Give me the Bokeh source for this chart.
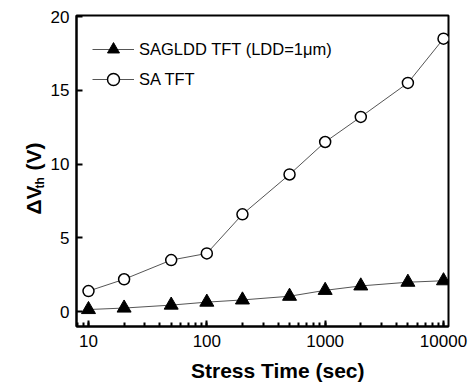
import numpy as np
from bokeh.plotting import figure
from bokeh.layouts import row, column
from bokeh.models import Range1d, LogTicker, FixedTicker, Legend, LegendItem, Label, CustomJSTickFormatter
from bokeh.embed import file_html
from bokeh.resources import INLINE

# data
stress_time = [10, 20, 50, 100, 200, 500, 1000, 2000, 5000, 10000]
sagldd_tft = [0.15, 0.25, 0.45, 0.65, 0.8, 1.05, 1.45, 1.75, 2.0, 2.1]
sa_tft = [1.4, 2.2, 3.5, 3.95, 6.6, 9.3, 11.5, 13.2, 15.5, 18.5]
y_ticks = [0, 5, 10, 15, 20]
x_ticks = [10, 100, 1000, 10000]
series_names = ["SAGLDD TFT (LDD=1\u03bcm)", "SA TFT"]
x_title = "Stress Time (sec)"

FONT = "Liberation Sans"
YW = 46   # width of the strip holding the y-axis title
XH = 26   # height of the strip holding the x-axis title
W, H = 473, 383


def blank(width, height):
    f = figure(width=width, height=height, output_backend="svg", toolbar_location=None,
               x_range=Range1d(0, width), y_range=Range1d(0, height),
               x_axis_location=None, y_axis_location=None,
               min_border=0, min_border_left=0, min_border_right=0,
               min_border_top=0, min_border_bottom=0)
    f.grid.visible = False
    f.outline_line_color = None
    return f


p = figure(width=W - YW, height=H - XH, x_axis_type="log", output_backend="svg",
           toolbar_location=None,
           x_range=Range1d(7.92, 11020), y_range=Range1d(-1.0, 20.07),
           min_border_left=76 - YW, min_border_right=25, min_border_top=15,
           min_border_bottom=(H - XH) - 326)
p.grid.visible = False
p.outline_line_color = "black"
p.outline_line_width = 2

for ax in (p.xaxis[0], p.yaxis[0]):
    ax.axis_line_width = 2
    ax.axis_line_color = "black"
    ax.major_tick_in = 6
    ax.major_tick_out = 0
    ax.major_tick_line_width = 2
    ax.major_tick_line_color = "black"
    ax.minor_tick_in = 4
    ax.minor_tick_out = 0
    ax.minor_tick_line_width = 2
    ax.minor_tick_line_color = "black"
    ax.major_label_text_font = FONT
    ax.major_label_text_font_size = "17px"
    ax.major_label_text_color = "black"
    ax.axis_label_standoff = 0
p.xaxis.major_label_standoff = 8
p.yaxis.major_label_standoff = 7

p.xaxis.ticker = LogTicker(desired_num_ticks=4, num_minor_ticks=10)
p.xaxis.formatter = CustomJSTickFormatter(code="return tick.toFixed(0);")
p.yaxis.ticker = FixedTicker(ticks=y_ticks)
p.yaxis.minor_tick_line_color = None

line_col = "#555555"
l1 = p.line(stress_time, sagldd_tft, line_color=line_col, line_width=1)
m1 = p.scatter(stress_time, sagldd_tft, marker="triangle", size=14,
               fill_color="black", line_color="black")
l2 = p.line(stress_time, sa_tft, line_color=line_col, line_width=1)
m2 = p.scatter(stress_time, sa_tft, marker="circle", size=11,
               fill_color="white", line_color="black", line_width=1.5)

legend = Legend(items=[LegendItem(label=series_names[0], renderers=[l1, m1]),
                       LegendItem(label=series_names[1], renderers=[l2, m2])],
                location=(16, 232), border_line_color=None, background_fill_alpha=0,
                padding=0, margin=0, spacing=-2, glyph_width=42, glyph_height=30,
                label_standoff=5, label_text_font=FONT, label_text_font_size="16.5px",
                label_text_color="black")
p.add_layout(legend)

# y-axis title strip: "ΔV" with subscript "th", then "(V)"
yfig = blank(YW, H)
for txt, size, bx, top in [("\u0394V", "21px", 33, 214), ("th", "12px", 39, 188), ("(V)", "21px", 33, 170)]:
    yfig.add_layout(Label(x=bx, y=H - top, text=txt, angle=np.pi / 2,
                          text_font=FONT, text_font_style="bold", text_font_size=size,
                          text_align="left", text_baseline="alphabetic", text_color="black"))

# x-axis title strip
xfig = blank(W - YW, XH)
xfig.add_layout(Label(x=277 - YW, y=13, text=x_title, text_font=FONT,
                      text_font_style="bold", text_font_size="21px",
                      text_align="center", text_baseline="middle", text_color="black"))

layout = row(yfig, column(p, xfig, spacing=0), spacing=0)
open("out.html", "w").write(file_html(layout, INLINE))
